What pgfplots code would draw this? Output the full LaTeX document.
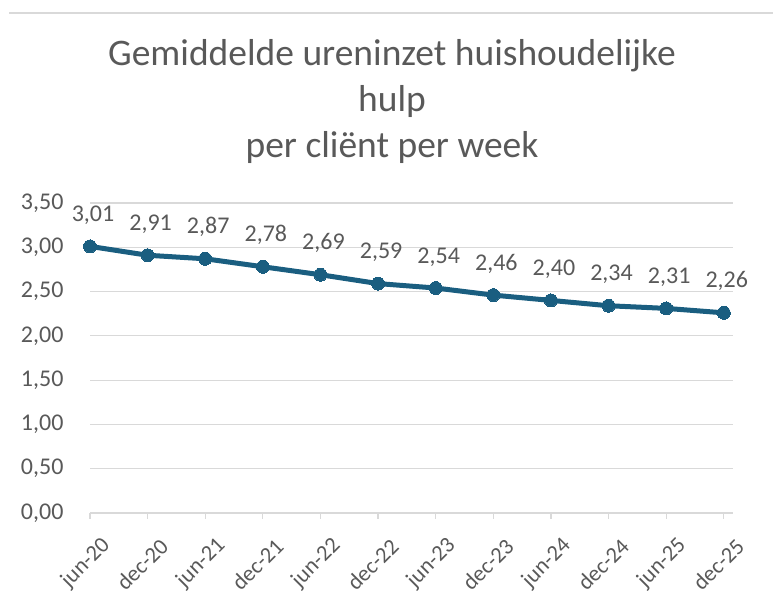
\documentclass[border=0pt]{standalone}
\usepackage{pgfplots}
\pgfplotsset{compat=1.18}
\usepackage{fontspec}
\setmainfont{Carlito}
\definecolor{lineblue}{HTML}{1A5E80}
\definecolor{txtgray}{HTML}{595959}
\definecolor{gridgray}{HTML}{D9D9D9}
\begin{document}
\begin{tikzpicture}[x=1bp,y=1bp]
\path[use as bounding box] (0,0) rectangle (773,608);
\draw[gridgray, line width=1.5bp] (9,595) -- (773,595);
\node[txtgray, align=center, font=\fontsize{37.5bp}{46bp}\selectfont] at (392,506) {Gemiddelde ureninzet huishoudelijke\\hulp\\per cliënt per week};
\begin{axis}[
  at={(90bp,95bp)}, anchor=south west,
  scale only axis, width=643bp, height=310bp,
  xmin=0, xmax=11.16, ymin=0, ymax=3.5,
  ytick={0,0.5,...,3.5},
  xtick={0,...,11},
  xticklabels={jun-20,dec-20,jun-21,dec-21,jun-22,dec-22,jun-23,dec-23,jun-24,dec-24,jun-25,dec-25},
  axis line style={draw=none},
  axis x line*=bottom,
  x axis line style={draw=gridgray, line width=1.2bp},
  ymajorgrids, grid style={gridgray, line width=1.2bp},
  major tick length=6bp,
  xtick style={draw=gridgray, line width=1.2bp},
  xtick pos=bottom, xtick align=outside,
  ytick style={draw=none},
  tick label style={txtgray, font=\fontsize{24bp}{28bp}\selectfont},
  /pgf/number format/assume math mode=true,
  yticklabel style={xshift=-23bp, /pgf/number format/fixed, /pgf/number format/fixed zerofill, /pgf/number format/precision=2, /pgf/number format/use comma},
  xticklabel style={font=\fontsize{22.5bp}{26bp}\selectfont, xshift=19bp, yshift=-21bp, rotate=45, anchor=east},
  clip=false,
  nodes near coords,
  nodes near coords style={txtgray, font=\fontsize{24bp}{28bp}\selectfont, anchor=south, yshift=18.5bp, xshift=3bp,
    /pgf/number format/fixed, /pgf/number format/fixed zerofill, /pgf/number format/precision=2, /pgf/number format/use comma, /pgf/number format/assume math mode=true},
]
\addplot[lineblue, line width=5bp, mark=*, mark size=6.5bp, mark options={fill=lineblue, draw=lineblue, line width=0bp}]
coordinates {(0,3.01)(1,2.91)(2,2.87)(3,2.78)(4,2.69)(5,2.59)(6,2.54)(7,2.46)(8,2.40)(9,2.34)(10,2.31)(11,2.26)};
\end{axis}
\end{tikzpicture}
\end{document}
